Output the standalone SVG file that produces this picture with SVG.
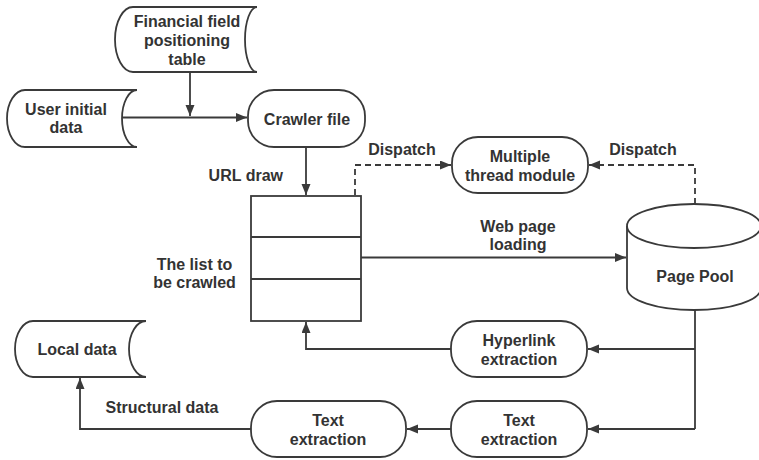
<svg xmlns="http://www.w3.org/2000/svg" width="759" height="460" viewBox="0 0 759 460">
<defs>
<marker id="ah" markerWidth="12" markerHeight="10" refX="11" refY="4.5" orient="auto" markerUnits="userSpaceOnUse">
<path d="M0,0 L11,4.5 L0,9 Z" fill="#3a3a3a"/>
</marker>
<style>
.s{fill:#fff;stroke:#3a3a3a;stroke-width:1.8}
.c{fill:none;stroke:#3a3a3a;stroke-width:1.8}
.d{fill:none;stroke:#3a3a3a;stroke-width:1.8;stroke-dasharray:6 4}
text{font-family:"Liberation Sans",Arial,sans-serif;font-weight:700;font-size:16px;fill:#333;text-anchor:middle}
</style>
</defs>
<rect width="759" height="460" fill="#fff"/>
<g id="connectors">
<path class="c" d="M190,72 V116" marker-end="url(#ah)"/>
<path class="c" d="M122,117.5 H247" marker-end="url(#ah)"/>
<path class="c" d="M306,147 V195" marker-end="url(#ah)"/>
<path class="c" d="M361,257.5 H626" marker-end="url(#ah)"/>
<path class="d" d="M355,195 V165 H451" marker-end="url(#ah)"/>
<path class="d" d="M695,204 V165 H589" marker-end="url(#ah)"/>
<path class="c" d="M695,310 V429"/>
<path class="c" d="M695,349 H588" marker-end="url(#ah)"/>
<path class="c" d="M695,429 H588" marker-end="url(#ah)"/>
<path class="c" d="M451,349 H306 V322" marker-end="url(#ah)"/>
<path class="c" d="M451,429 H407" marker-end="url(#ah)"/>
<path class="c" d="M251,429 H80 V378" marker-end="url(#ah)"/>
</g>
<g id="financial-table">
<path class="s" d="M133,7 H257 A12,32.5 0 0 0 257,72 H133 A18,32.5 0 0 1 133,7 Z"/>
<text x="187" y="27">Financial field</text>
<text x="187" y="46">positioning</text>
<text x="187" y="65">table</text>
</g>
<g id="user-initial-data">
<path class="s" d="M25,90 H137 A15,28.5 0 0 0 137,147 H25 A18,28.5 0 0 1 25,90 Z"/>
<text x="66" y="114.5">User initial</text>
<text x="66" y="133">data</text>
</g>
<g id="crawler-file">
<rect class="s" x="248" y="90" width="117" height="57" rx="26" ry="26"/>
<text x="307" y="125">Crawler file</text>
</g>
<g id="url-draw-label">
<text x="283" y="180.5" style="text-anchor:end">URL draw</text>
</g>
<g id="list-to-crawl">
<rect class="s" x="251" y="196" width="110" height="125"/>
<path class="c" d="M251,237 H361 M251,279 H361"/>
<text x="194.5" y="269.5">The list to</text>
<text x="194.5" y="288">be crawled</text>
</g>
<g id="dispatch-labels">
<text x="402" y="155">Dispatch</text>
<text x="643" y="155">Dispatch</text>
</g>
<g id="thread-module">
<rect class="s" x="452" y="137" width="136" height="56" rx="26" ry="26"/>
<text x="520" y="162">Multiple</text>
<text x="520" y="181">thread module</text>
</g>
<g id="web-page-label">
<text x="518" y="231.5">Web page</text>
<text x="518" y="250">loading</text>
</g>
<g id="page-pool">
<path class="s" d="M627,226 A67,22 0 0 1 761,226 V288 A67,22 0 0 1 627,288 Z"/>
<path class="c" d="M627,226 A67,22 0 0 0 761,226"/>
<text x="695" y="281.5">Page Pool</text>
</g>
<g id="hyperlink-extraction">
<rect class="s" x="451" y="321" width="136" height="56" rx="26" ry="26"/>
<text x="519" y="345.5">Hyperlink</text>
<text x="519" y="364.5">extraction</text>
</g>
<g id="text-extraction-right">
<rect class="s" x="451" y="401" width="136" height="56" rx="26" ry="26"/>
<text x="519" y="426">Text</text>
<text x="519" y="445">extraction</text>
</g>
<g id="text-extraction-left">
<rect class="s" x="251" y="401" width="155" height="56" rx="26" ry="26"/>
<text x="328" y="426">Text</text>
<text x="328" y="445">extraction</text>
</g>
<g id="local-data">
<path class="s" d="M33,321 H146 A17,28 0 0 0 146,377 H33 A18,28 0 0 1 33,321 Z"/>
<text x="77" y="355">Local data</text>
</g>
<g id="structural-label">
<text x="162" y="413">Structural data</text>
</g>
</svg>
